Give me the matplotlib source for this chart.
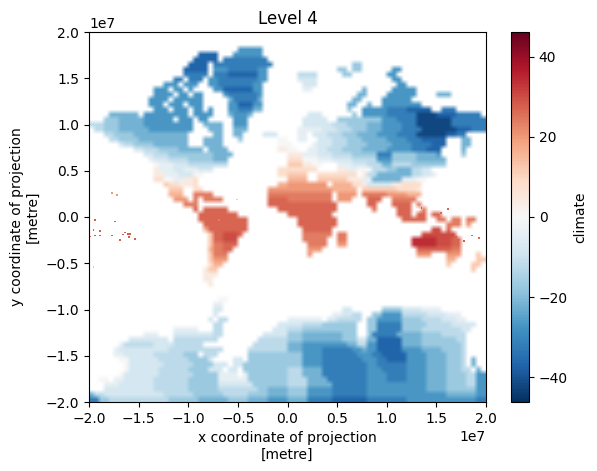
import re
import numpy as np
import matplotlib
matplotlib.use("Agg")
import matplotlib.pyplot as plt

# Temperature read for each colour letter (degrees)
LEVELS = dict(a=-42, b=-37, c=-32, d=-27, e=-22, f=-17, g=-12, h=-8, i=-4, j=0,
              k=4, l=8, m=12, n=16, o=20, p=24, q=27, r=30, s=34)

# Run-length rows, north to south; each half has 40 columns ('.' = no data)
WEST = [
"", "", "", "30.5d", "22.4b3.6d", "21.5b1.9c", "20.4b1.12c", "19.5b1.3d6c2d", "19.5c1.3c6b2d",
"17.2c1.3c1.2d8c2d", "15.3d1.3d2.2d7c2d", "13.3d1.2d1.1d4.2d6b2d", "13.4d1.2d1.2d4.1d6c1d",
"12.4d1.6d5.1e5c1e", "12.3d1.3d1.3d5.2d3b2d", "13.3d1.3d1.2d1.1d3.2d3c2e", "4.6e1.9d1.4d3.1e3d1e",
"3.3f5e6d1.3d1.2d5.3d", "3g3f5e6d4d2.4e2.3d", "1.2g3f6e9d3.3e2.3e", "3.2g4f6e5e5.2e2.2e4.3h",
"4.2g4f5e5e3.4e3.1f7.2j", "6.1h2g4f7e3.4e11.2j", "9.2h3g4f5e1.4e10.2k", "11.2h3g4f5f4e",
"12.1i3h4g5f3e", "13.1j3i3h4g4g", "13.1k3i2h3i3h13.2l", "13.2k3i3h2j15.2l", "13.2l2j2i2k1l",
"15.1m2l3k1l16.2n", "16.3m2.2l13.4o", "16.3n2.4p11.4p", "17.3o1.1p1.4p9.4q", "19.3p14.4q",
"21.1q1.5q10.2q", "22.8q", "22.10q", "23.9q", "23.1n8q", "24.1m2q3r1q", "24.1m2q3r", "24.1m2p3q",
"24.1n2p2q", "24.1m3p", "24.1m3o", "24.1l2n", "23.1k2m", "23.1k2k", "23.2k", "24.1k", "", "",
"26.2j", "25.2i", "25.2h", "25.1h", "24.1h1.2g", "25.2g11.2h", "17.5i3.2g10.3h", "11.3i3.8h2g8.5h",
"8.8h1.9g8.6g", "6.1i6g4h6g10.7g", "5.1i5h5h7g4g5.8g", "5.2i6h6g3f1.3g6.8f",
"6.2j6h6g4f1h4.2h1.8f", "7.1j7h6g4f3h1.2h9f", "7.1j6h6g4f3h1.2h1.9f", "6.1j7h7g5f4i1.1i3f5f",
"2.2j1.2i6h7g6f4i2i4f4f", "3.3i7h7g6f4h3h3f4f", "3.3h7h7g6f5g3g2f4e", "1e2g5h7h6g6f5g4f4e",
"2c2f5g7g6f6e4f4e4d",
]

EAST = [
"", "", "", "", "", "", "13.2f", "10.2f1.2f6.2d", "2.4g5.2f7.2d", "2.4h15.2d", "3.3h16.2d",
"3.2i10.1e5.5d", "14.2e4.6d4.3e", "13.2e4.6d", "12.2e2.1e2.8d", "12.1f2.5d4c5b2.3c",
"4.3h6.1f1.5d6c4a4b5c", "3.5h2.9f3d4c7a7c", "3.6h3g4f3e4d3c7a7c", "2.5i3h3g3f3e4d4c7a3b3c",
"2.2i1.3h3g3f4e4d4c6a2b2c", "2.2i2.3h3g3f5e4d3c5b3.2e", "1j4.1i3h3g4f5e4d4c3b3.2e",
"2j2.2i2h3g4f5e5d3c3b4.1e", "3k3i3h4g5f3c5f4e1d4.1f", "3l3j3i4h5g3d5f4e2e",
"3m2k2j3.3i3h3g2e4g3f2f2f", "6l4.2k2i3j3g2f3e2g2h", "4m2.8l1.1k2g3e4e2g2h1i",
"4n2.6m3k2i6e3i2j", "8o1.4n2l1k5h2k3l1l", "9o5n1.3m4m4l1k", "9p1.4o1.5p4o3n",
"9p1.3o3.3q2.5p", "10q6.2q3.4q1.1p", "10q7.1p4.3q2.1p", "9q13.3q1.2q1.2q",
"2.8q13.5q2.2p1.2p1.2p", "2.8q22.3p1.1o", "3.6q20.2r1.1q", "3.6p1.2p15.7r",
"3.5p2.2p13.5s3r2q", "4.4p2.2o13.5s3r2q", "4.3o19.3q4q2p", "4.1o21.3o3.3o3.1m",
"32.2n4.2m", "32.1m4.2m", "37.1m", "", "", "", "", "", "", "",
"11.2h6.4f4h4i", "9.2i2h2g2.2f4d5g4h3i", "7i1.2h3g2g1.2f5d4f4g3h2i",
"3h4g4f3f2.2f5c5f5g3h2h", "3g4f4f3f2.2f5c4f5g3g2h", "3f4e4e3f2.1f5c5e4f3g2g",
"3f4e4e3f2h2e5b4e4f3f2g", "3e4d5d2e2g2d5b4e4f4f1g", "3e4d6c2d1e2d5b4d4e4f1g",
"3f4d7c3d2c5b4d4e3f1g", "3f4d8c3d2c4b4d4e3f1g1.1e", "3f4d9c2d2c4c4d4e3f1g1.1e",
"3g4e9c3d5c4d4e3f2g1.1e", "3g4e9c4d4c4d4e4f2g2d", "4g4e8c4d4c4d4e4f2g2d",
"4g5e7c4d4d4d4e4f2g2d", "4f5d7c4d4d4d4e4f2f2d", "4f5d7c4d4d4d4d4e2e2d", "4e5c7b4c4c4d4d4d2d2c",
]

# Small islands too fine for the grid (millions of metres, degrees)
ISLAND_X = [-19.4, -17.4, -19.56, -18.9, -19.4, -18.9, -17.7, -16.4, -16.1, -15.9, -16.6, -16.9, -16.0, -15.4, -19.9,
            -19.56, -17.7, -17.2, -6.9, -5.1, 17.0, 17.8, 18.6, 19.3, 13.5, 15.5, 16.2]
ISLAND_Y = [-0.32, -0.5, -1.4, -1.5, -2.0, -2.0, -2.0, -1.66, -1.85, -1.85, -1.9, -2.5, -2.2, -2.4, -2.1,
            -5.4, 2.6, 2.4, -0.3, 1.9, -2.2, -2.6, -2.0, -2.3, 1.0, 0.4, 0.9]
ISLAND_V = [28, 28, 28, 28, 28, 28, 28, 28, 28, 28, 28, 28, 28, 28, 28,
            14, 20, 20, 24, 12, 28, 28, 26, 26, 28, 26, 27]

TICKS_X = [-2.0, -1.5, -1.0, -0.5, 0.0, 0.5, 1.0, 1.5, 2.0]
TICKS_Y = [-2.0, -1.5, -1.0, -0.5, 0.0, 0.5, 1.0, 1.5, 2.0]
TICKS_C = [-40, -20, 0, 20, 40]


def decode(row):
    cells = []
    for count, ch in re.findall(r"(\d+)([a-z.])", row):
        cells += [LEVELS.get(ch, np.nan)] * int(count)
    cells = (cells + [np.nan] * 40)[:40]
    return cells


climate = np.array([decode(w) + decode(e) for w, e in zip(WEST, EAST)], dtype=float)

cmap = plt.get_cmap("RdBu_r").copy()
cmap.set_bad("white", 1.0)

W, H = 597, 471
fig = plt.figure(figsize=(W / 100, H / 100), dpi=100)
ax = fig.add_axes([89 / W, 1 - 402 / H, 397 / W, 370 / H])
mesh = ax.imshow(np.ma.masked_invalid(climate), extent=(-2e7, 2e7, -2e7, 2e7), origin="upper",
                 aspect="auto", cmap=cmap, vmin=-46.2, vmax=46.2,
                 interpolation="bilinear", interpolation_stage="rgba")
ax.scatter(np.array(ISLAND_X) * 1e6, np.array(ISLAND_Y) * 1e6, c=ISLAND_V, cmap="RdBu_r",
           vmin=-46.2, vmax=46.2, s=1.5, marker="s", linewidths=0)
ax.set_xlim(-2e7, 2e7)
ax.set_ylim(-2e7, 2e7)
ax.set_xticks(np.array(TICKS_X) * 1e7)
ax.set_yticks(np.array(TICKS_Y) * 1e7)
ax.set_title("Level 4")
ax.set_xlabel("x coordinate of projection\n[metre]")
ax.set_ylabel("y coordinate of projection\n[metre]")

cax = fig.add_axes([511 / W, 1 - 402 / H, 18 / W, 370 / H])
cb = fig.colorbar(mesh, cax=cax, label="climate")
cb.set_ticks(TICKS_C)

fig.savefig("out.png", dpi=100)
